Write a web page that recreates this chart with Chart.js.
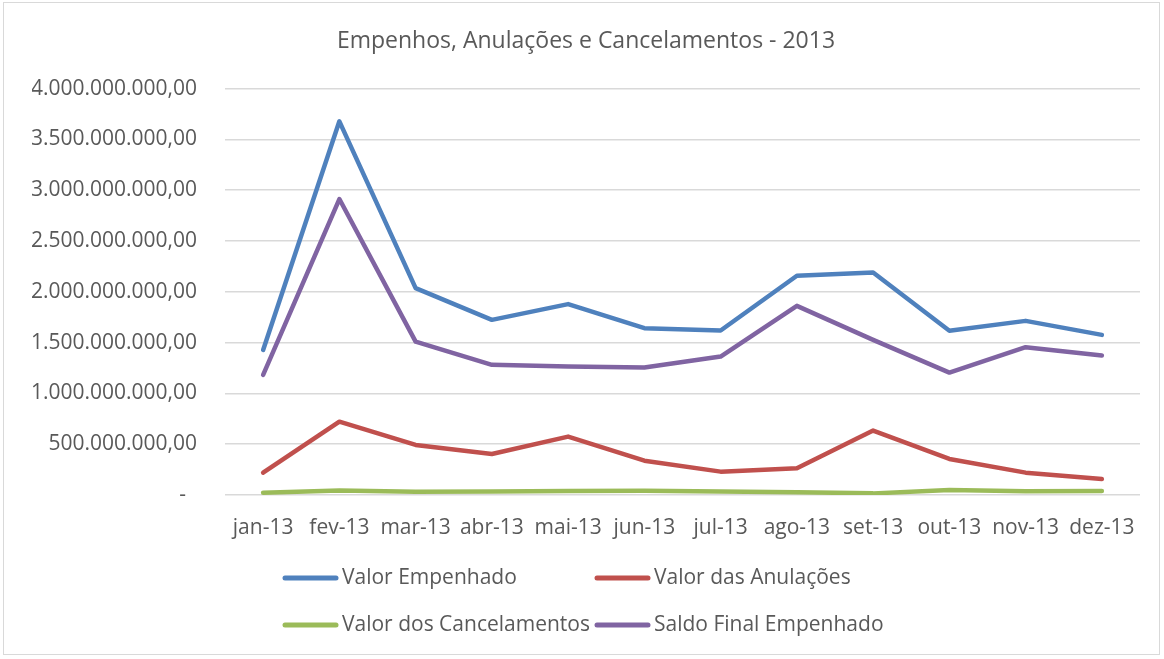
<!DOCTYPE html>
<html>
<head>
<meta charset="utf-8">
<script src="https://cdn.jsdelivr.net/npm/chart.js@4"></script>
<style>
  html, body { margin: 0; padding: 0; background: #fff; }
  #wrap { position: relative; width: 1164px; height: 659px; }
  #frame { position: absolute; left: 3px; top: 2px; width: 1155px; height: 651px; border: 1px solid #d9d9d9; pointer-events: none; }
</style>
</head>
<body>
<div id="wrap">
  <canvas id="c" width="1164" height="659"></canvas>
  <div id="frame"></div>
</div>
<script>
const categories = ['jan-13','fev-13','mar-13','abr-13','mai-13','jun-13','jul-13','ago-13','set-13','out-13','nov-13','dez-13'];
const valorEmpenhado = [1428e6, 3678e6, 2036e6, 1724e6, 1879e6, 1642e6, 1619e6, 2158e6, 2190e6, 1616e6, 1714e6, 1576e6];
const valorAnulacoes = [220e6, 722e6, 493e6, 404e6, 575e6, 338e6, 230e6, 263e6, 634e6, 355e6, 220e6, 158e6];
const valorCancelamentos = [23e6, 45e6, 33e6, 34e6, 40e6, 41e6, 35e6, 28e6, 16e6, 49e6, 36e6, 40e6];
const saldoFinal = [1182e6, 2913e6, 1510e6, 1281e6, 1264e6, 1254e6, 1363e6, 1862e6, 1527e6, 1205e6, 1455e6, 1372e6];
const seriesNames = ['Valor Empenhado', 'Valor das Anulações', 'Valor dos Cancelamentos', 'Saldo Final Empenhado'];
const seriesColors = ['#4F81BD', '#C0504D', '#9BBB59', '#8064A2'];
const titleText = 'Empenhos, Anulações e Cancelamentos - 2013';
const yMax = 4000e6, yStep = 500e6;

const FONT = '"Open Sans", sans-serif';
const TXT = '#595959';

function fmtBR(v) {
  if (v === 0) return '-\u00A0\u00A0';
  const s = Math.round(v).toString().replace(/\B(?=(\d{3})+(?!\d))/g, '.');
  return s + ',00';
}

const legendPlugin = {
  id: 'gridLegend',
  afterDraw(chart) {
    const ctx = chart.ctx;
    const cols = [283, 595];
    const rows = [578, 625];
    ctx.save();
    ctx.font = '21px ' + FONT;
    ctx.textBaseline = 'middle';
    ctx.textAlign = 'left';
    chart.data.datasets.forEach((ds, i) => {
      const x = cols[i % 2], y = rows[Math.floor(i / 2)];
      ctx.strokeStyle = ds.borderColor;
      ctx.lineWidth = 5;
      ctx.lineCap = 'round';
      ctx.beginPath();
      ctx.moveTo(x + 2, y);
      ctx.lineTo(x + 53, y);
      ctx.stroke();
      ctx.fillStyle = TXT;
      ctx.fillText(ds.label, x + 59, y);
    });
    ctx.restore();
  }
};

const seriesData = [valorEmpenhado, valorAnulacoes, valorCancelamentos, saldoFinal];

new Chart(document.getElementById('c'), {
  type: 'line',
  data: {
    labels: categories,
    datasets: seriesData.map((d, i) => ({
      label: seriesNames[i],
      data: d,
      borderColor: seriesColors[i],
      backgroundColor: seriesColors[i],
      borderWidth: 4.5,
      borderCapStyle: 'round',
      borderJoinStyle: 'round',
      pointRadius: 0,
      tension: 0,
      fill: false
    }))
  },
  options: {
    responsive: false,
    animation: false,
    devicePixelRatio: 1,
    layout: { padding: { top: 18, left: 32, right: 24, bottom: 119 } },
    plugins: {
      legend: { display: false },
      tooltip: { enabled: false },
      title: {
        display: true,
        text: titleText,
        color: TXT,
        font: { family: FONT, size: 23, weight: 'normal' },
        padding: { top: 10, bottom: 33 }
      }
    },
    scales: {
      x: {
        offset: true,
        afterFit(s) { s.height = 45; },
        grid: { display: false, drawTicks: false },
        border: { display: false },
        ticks: { color: TXT, font: { family: FONT, size: 21 }, padding: 20, maxRotation: 0, autoSkip: false }
      },
      y: {
        min: 0, max: yMax,
        afterFit(s) { s.width = 193; },
        grid: { color: '#d9d9d9', lineWidth: 1.5, drawTicks: false },
        border: { display: false },
        ticks: { stepSize: yStep, color: TXT, font: { family: FONT, size: 21 }, padding: 28, callback: (v) => fmtBR(v) }
      }
    }
  },
  plugins: [legendPlugin]
});
</script>
</body>
</html>
